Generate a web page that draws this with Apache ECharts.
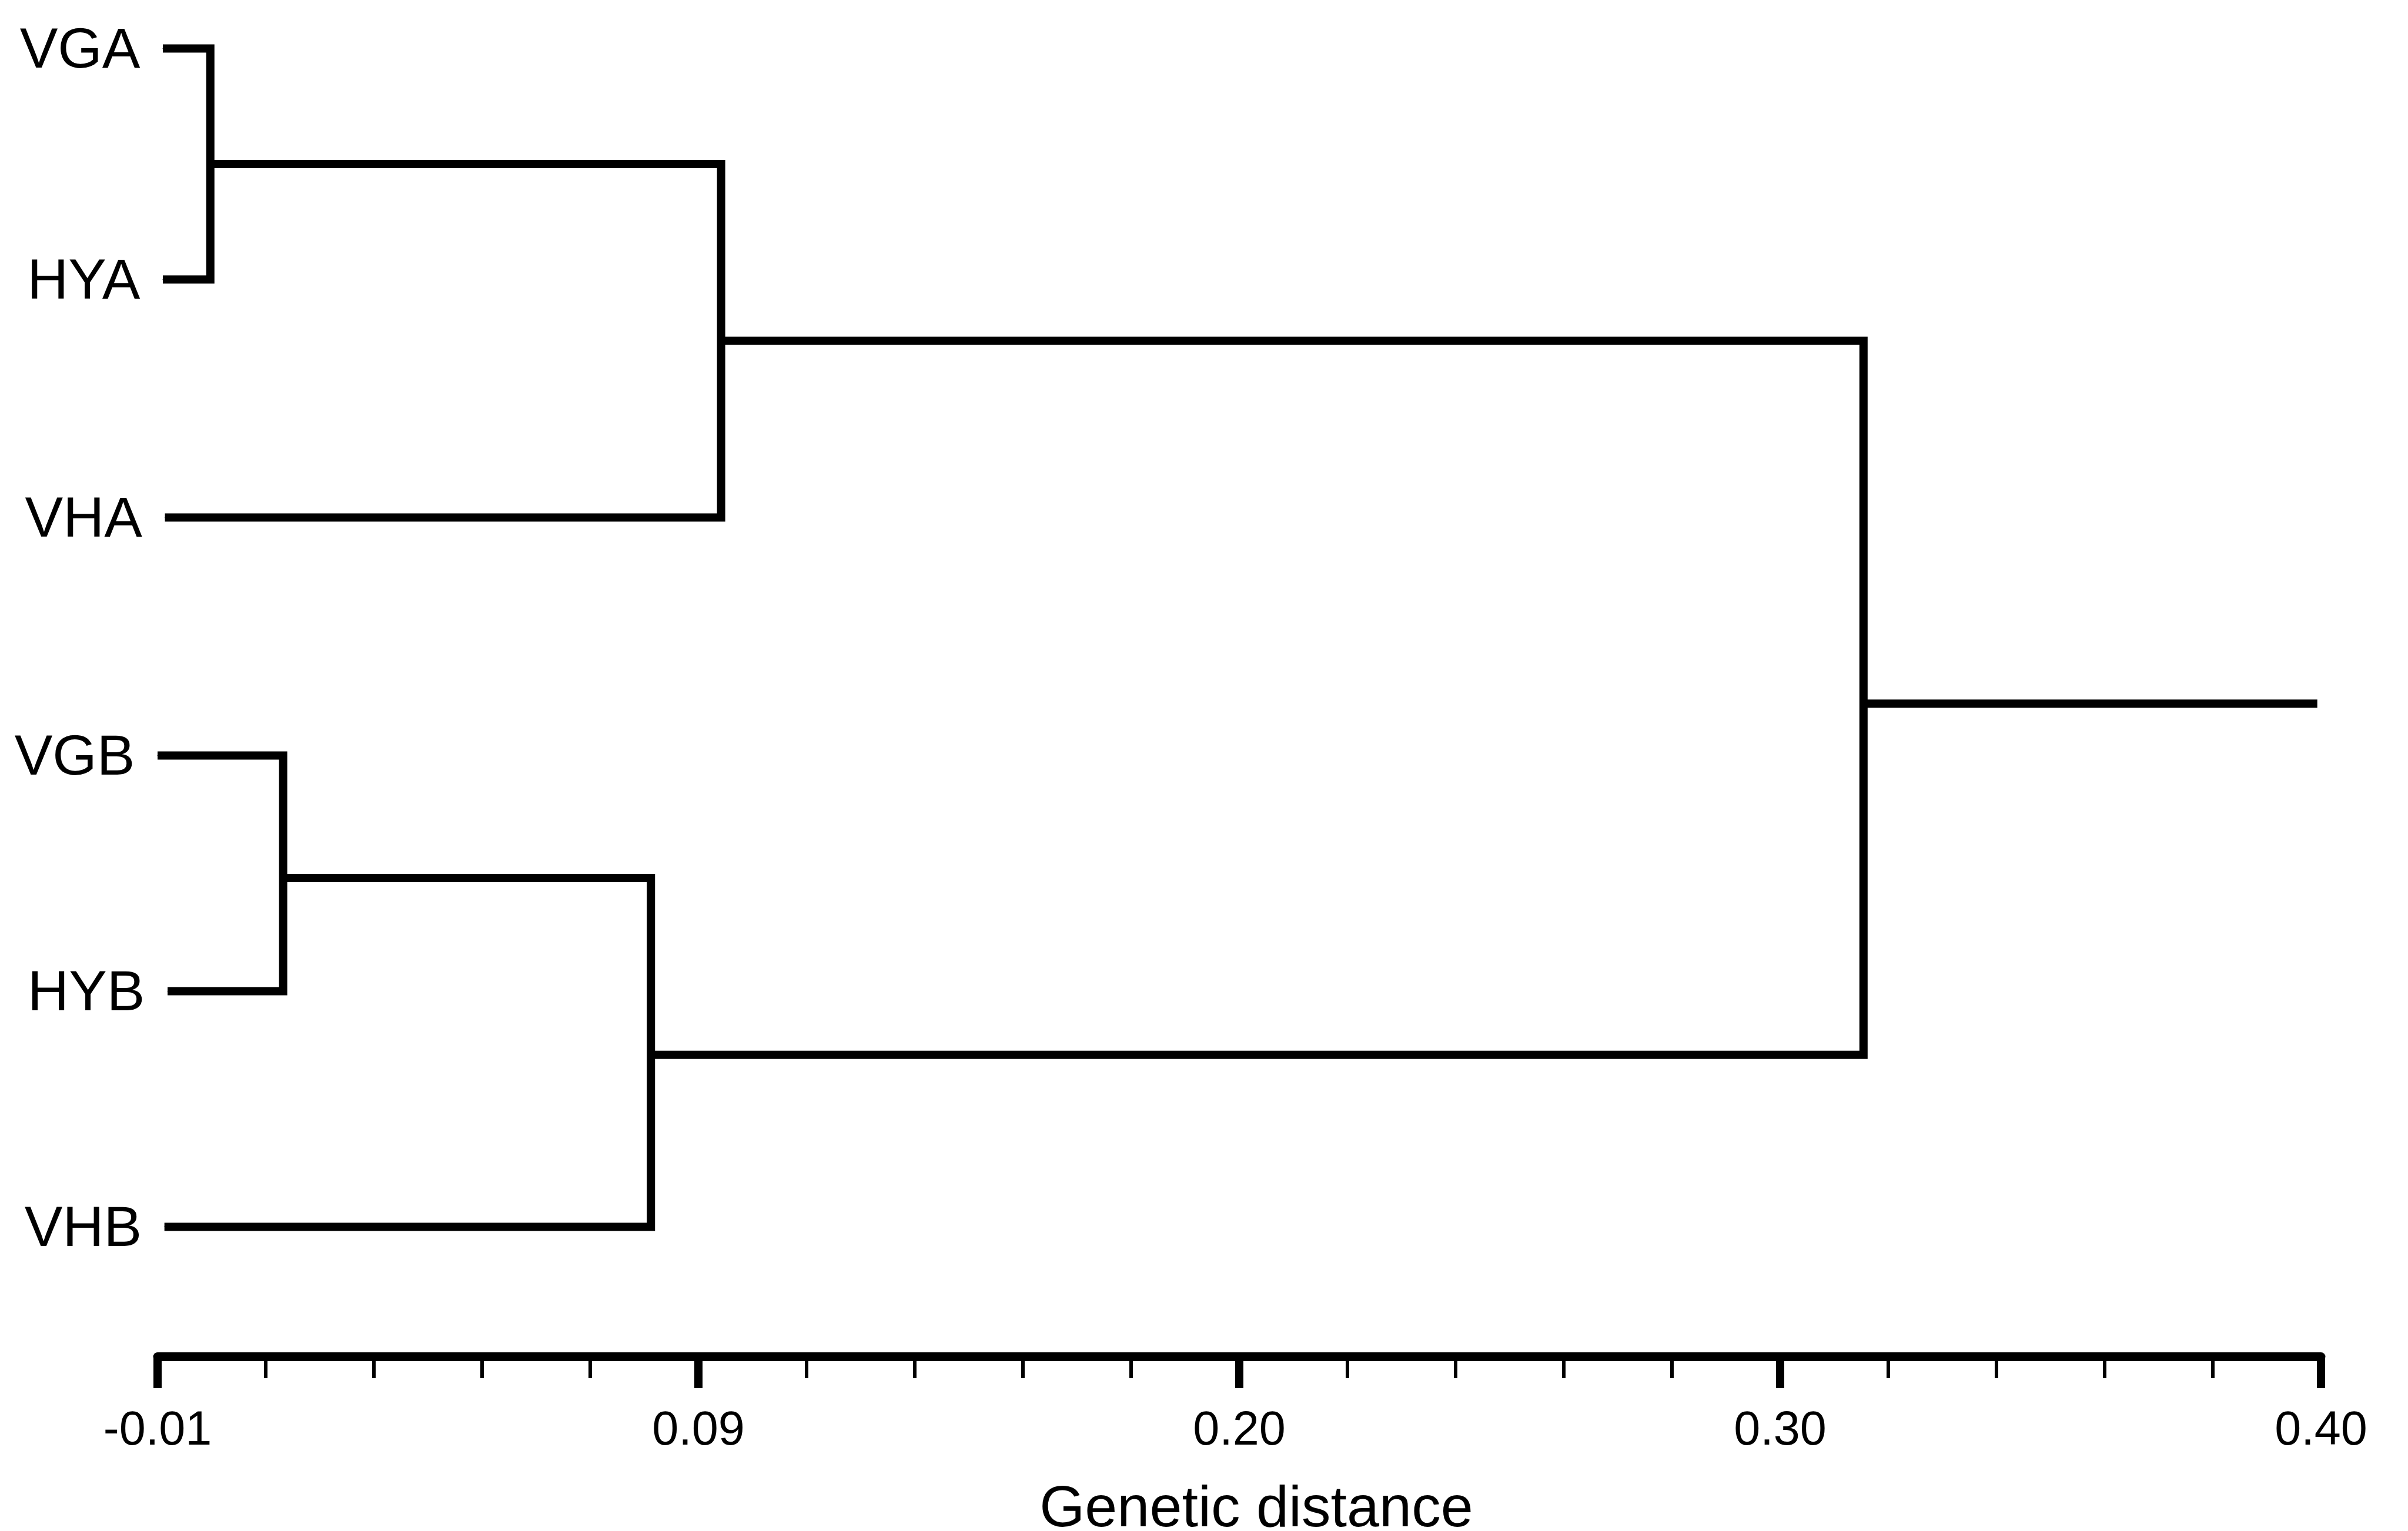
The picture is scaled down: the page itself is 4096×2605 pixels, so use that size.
<!DOCTYPE html>
<html><head><meta charset="utf-8">
<script src="https://cdn.jsdelivr.net/npm/echarts@6/dist/echarts.min.js"></script>
<style>html,body{margin:0;padding:0;background:#fff}#c{width:4096px;height:2605px}</style>
</head><body><div id="c"></div>
<script>
// ---- data ----
const leafNames = ['VGA', 'HYA', 'VHA', 'VGB', 'HYB', 'VHB'];
const leafRow = [0, 0.98, 1.99, 3, 4, 5];
const leafStart = [-0.0090, -0.0090, -0.0086, -0.0100, -0.0081, -0.0087];
const nodeNames = ['VGA+HYA', 'A', 'VGB+HYB', 'B', 'Root'];
const nodeDist = [0.0000, 0.0968, 0.0138, 0.0835, 0.3133];
const nodeRow = [0.49, 1.24, 3.52, 4.27, 2.78];
const nodeChildren = [['VGA', 'HYA'], ['VGA+HYA', 'VHA'], ['VGB', 'HYB'], ['VGB+HYB', 'VHB'], ['A', 'B']];
const rootEnd = 0.3993;
const tickLabels = ['-0.01', '0.09', '0.20', '0.30', '0.40'];
const axisMin = -0.01, axisMax = 0.40;
const axisTitle = 'Genetic distance';

// ---- build ----
const FONT = '"Liberation Sans", Arial, Helvetica, sans-serif';
function pos(name) {
  let i = leafNames.indexOf(name);
  if (i >= 0) return [leafStart[i], leafRow[i]];
  i = nodeNames.indexOf(name);
  return [nodeDist[i], nodeRow[i]];
}
const lineStyle = { color: '#000', width: 14, join: 'miter', cap: 'butt' };
const series = [];
nodeNames.forEach((n, k) => {
  const a = pos(nodeChildren[k][0]), b = pos(nodeChildren[k][1]);
  const x = nodeDist[k];
  series.push({
    type: 'line', xAxisIndex: 0, yAxisIndex: 0, symbol: 'none', showSymbol: false,
    silent: true, clip: false, animation: false, lineStyle,
    data: [[a[0], a[1]], [x, a[1]], [x, b[1]], [b[0], b[1]]]
  });
});
const r = pos('Root');
series.push({
  type: 'line', xAxisIndex: 0, yAxisIndex: 0, symbol: 'none', showSymbol: false,
  silent: true, clip: false, animation: false, lineStyle,
  data: [[r[0], r[1]], [rootEnd, r[1]]]
});
series.push({
  type: 'scatter', xAxisIndex: 0, yAxisIndex: 0, symbolSize: 1, silent: true, animation: false,
  itemStyle: { color: '#000', opacity: 1 },
  label: {
    show: true, position: 'left', distance: 38, offset: [0, 6], opacity: 1,
    formatter: p => p.data.name, fontSize: 97, fontFamily: FONT, color: '#000'
  },
  emphasis: { disabled: true },
  data: leafNames.map((n, i) => ({ name: n, value: [leafStart[i], leafRow[i]] }))
});

const chart = echarts.init(document.getElementById('c'), null, { renderer: 'canvas' });
chart.setOption({
  backgroundColor: '#fff',
  animation: false,
  grid: { left: 268, right: 148, top: 2.4, bottom: 297, containLabel: false, outerBoundsMode: 'none' },
  xAxis: [
    { type: 'value', min: axisMin, max: axisMax, show: false, gridIndex: 0 },
    {
      type: 'value', min: 0, max: tickLabels.length - 1, interval: 1, gridIndex: 0, position: 'bottom',
      axisLine: { show: true, lineStyle: { color: '#000', width: 15 } },
      axisTick: { show: true, length: 54, lineStyle: { color: '#000', width: 14 } },
      minorTick: { show: true, splitNumber: 5, length: 37, lineStyle: { color: '#000', width: 6 } },
      splitLine: { show: false }, minorSplitLine: { show: false },
      axisLabel: {
        show: true, margin: 87, fontSize: 81, fontFamily: FONT, color: '#000',
        showMinLabel: true, showMaxLabel: true,
        formatter: v => tickLabels[Math.round(v)]
      },
      name: axisTitle, nameLocation: 'middle', nameGap: 212,
      nameTextStyle: { fontSize: 99, fontFamily: FONT, color: '#000', padding: [0, 0, 0, 58] }
    }
  ],
  yAxis: { type: 'value', min: -0.2, max: 5.55, inverse: true, show: false },
  series
});
</script></body></html>
